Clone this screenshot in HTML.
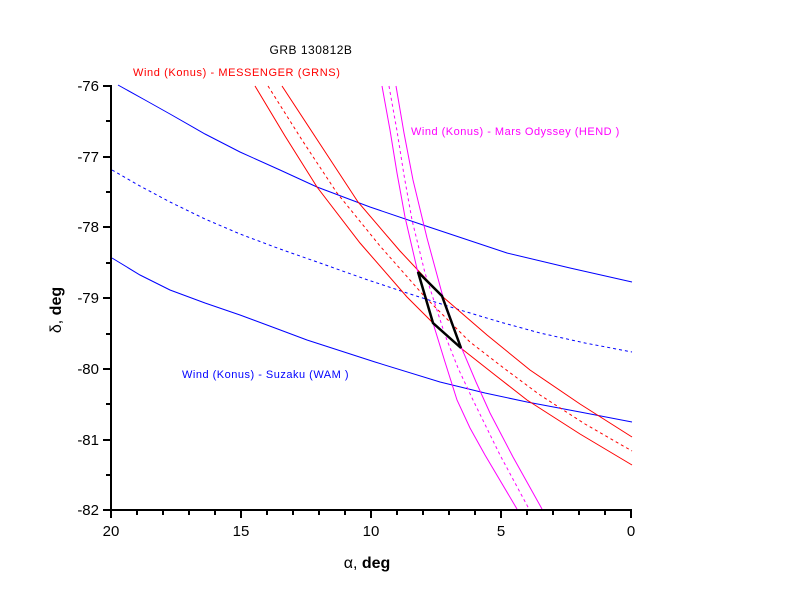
<!DOCTYPE html>
<html><head><meta charset="utf-8"><style>
html,body{margin:0;padding:0;background:#fff}
svg{display:block;font-family:"Liberation Sans",Arial,sans-serif}
</style></head><body>
<svg width="792" height="612" viewBox="0 0 792 612" xmlns="http://www.w3.org/2000/svg">
<g fill="none" stroke-width="1">
<polyline stroke="#0000ff" points="118,85 145,100 170,114 205,134 240,152 280,170 317,187 370,207 423,225 465,239 507,253 570,268 632,282"/>
<polyline stroke="#0000ff" stroke-dasharray="3,3" points="112,170 140,186 170,202 205,219 240,234 280,249 320,263 365,279 407,293 460,310 500,322 540,333 585,343 632,352"/>
<polyline stroke="#0000ff" points="112,258 140,275 170,290 205,303 240,315 275,328 307,340 375,362 440,382 485,393 527,402 580,412 632,422"/>
<polyline stroke="#ff0000" points="255,86 285,136 317,187 360,243 407,297 433,323 462,349 495,375 527,400 580,434 632,465"/>
<polyline stroke="#ff0000" stroke-dasharray="3,3" points="268,86 302,140 337,193 380,246 425,297 470,342 505,369 540,395 585,424 632,451"/>
<polyline stroke="#ff0000" points="282,86 320,144 358,202 400,251 443,297 487,335 530,370 580,404 632,437"/>
<polyline stroke="#ff00ff" points="382,86 390,130 397,173 405,217 418,273 433,323 445,362 457,400 470,428 485,455 517,509"/>
<polyline stroke="#ff00ff" stroke-dasharray="3,3" points="389,86 397,131 404,175 412,220 425,273 445,335 458,368 473,400 500,455 529,509"/>
<polyline stroke="#ff00ff" points="396,86 404,133 413,180 427,238 443,297 462,349 476,382 490,413 513,457 542,509"/>
<polygon stroke="#000" stroke-width="2.5" points="418,272 442,296 461,348 433,323"/>
<line x1="111" y1="85" x2="111" y2="511" stroke="#000" stroke-width="2"/>
<line x1="110" y1="510" x2="632" y2="510" stroke="#000" stroke-width="2"/>
</g>
<g stroke="#000" stroke-width="2">
<line x1="103" y1="86" x2="111" y2="86"/><line x1="106" y1="121" x2="111" y2="121"/>
<line x1="103" y1="157" x2="111" y2="157"/><line x1="106" y1="192" x2="111" y2="192"/>
<line x1="103" y1="227" x2="111" y2="227"/><line x1="106" y1="263" x2="111" y2="263"/>
<line x1="103" y1="298" x2="111" y2="298"/><line x1="106" y1="334" x2="111" y2="334"/>
<line x1="103" y1="369" x2="111" y2="369"/><line x1="106" y1="404" x2="111" y2="404"/>
<line x1="103" y1="440" x2="111" y2="440"/><line x1="106" y1="475" x2="111" y2="475"/>
<line x1="103" y1="510" x2="111" y2="510"/>
<line x1="111" y1="510" x2="111" y2="518"/><line x1="137" y1="510" x2="137" y2="515"/><line x1="163" y1="510" x2="163" y2="515"/><line x1="189" y1="510" x2="189" y2="515"/><line x1="215" y1="510" x2="215" y2="515"/>
<line x1="241" y1="510" x2="241" y2="518"/><line x1="267" y1="510" x2="267" y2="515"/><line x1="293" y1="510" x2="293" y2="515"/><line x1="319" y1="510" x2="319" y2="515"/><line x1="345" y1="510" x2="345" y2="515"/>
<line x1="371" y1="510" x2="371" y2="518"/><line x1="397" y1="510" x2="397" y2="515"/><line x1="423" y1="510" x2="423" y2="515"/><line x1="449" y1="510" x2="449" y2="515"/><line x1="475" y1="510" x2="475" y2="515"/>
<line x1="501" y1="510" x2="501" y2="518"/><line x1="527" y1="510" x2="527" y2="515"/><line x1="553" y1="510" x2="553" y2="515"/><line x1="579" y1="510" x2="579" y2="515"/><line x1="605" y1="510" x2="605" y2="515"/>
<line x1="631" y1="510" x2="631" y2="518"/>
</g>
<g font-size="15" fill="#000" text-anchor="end">
<text x="99" y="91">-76</text><text x="99" y="162">-77</text><text x="99" y="232">-78</text>
<text x="99" y="303">-79</text><text x="99" y="374">-80</text><text x="99" y="445">-81</text><text x="99" y="515">-82</text>
</g>
<g font-size="15" fill="#000" text-anchor="middle">
<text x="111" y="536">20</text><text x="241" y="536">15</text><text x="371" y="536">10</text><text x="501" y="536">5</text><text x="631" y="536">0</text>
</g>
<text x="367" y="568" font-size="16" text-anchor="middle" fill="#000">α, <tspan font-weight="bold">deg</tspan></text>
<text transform="translate(61,310) rotate(-90)" font-size="16" text-anchor="middle" fill="#000">δ, <tspan font-weight="bold">deg</tspan></text>
<text x="311" y="54" font-size="12" text-anchor="middle" fill="#000" letter-spacing="0.5">GRB 130812B</text>
<text x="133" y="76" font-size="11" fill="#ff0000" letter-spacing="0.6">Wind (Konus) - MESSENGER (GRNS)</text>
<text x="411" y="135" font-size="11" fill="#ff00ff" letter-spacing="0.5">Wind (Konus) - Mars Odyssey (HEND )</text>
<text x="182" y="378" font-size="11" fill="#0000ff" letter-spacing="0.5">Wind (Konus) - Suzaku (WAM )</text>
</svg>
</body></html>
